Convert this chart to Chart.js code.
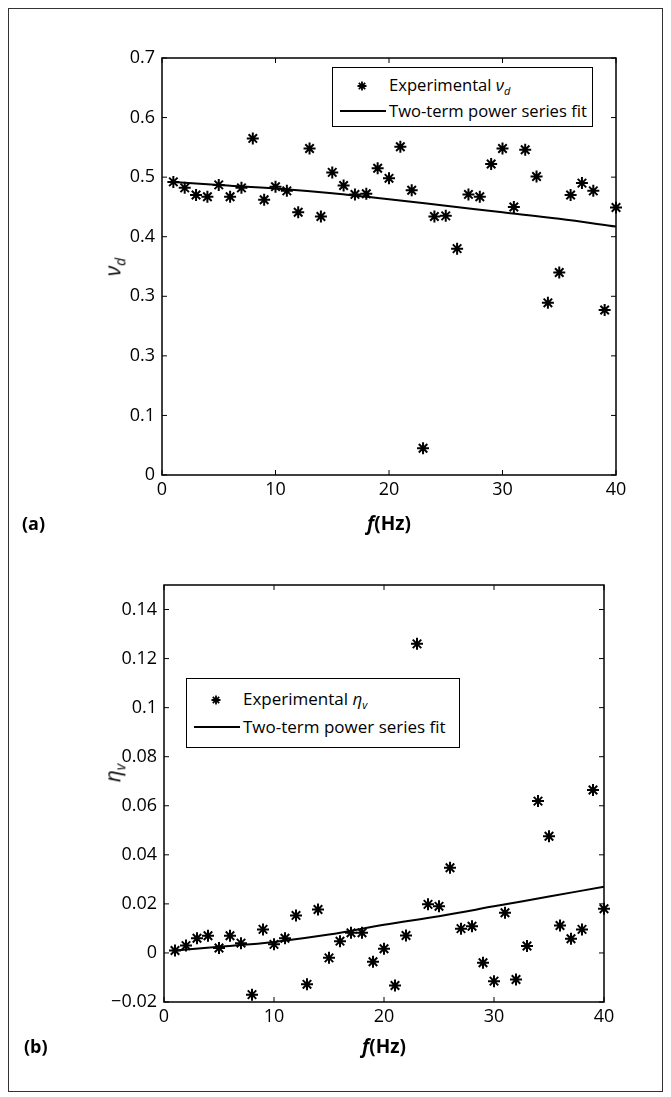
<!DOCTYPE html>
<html lang="en">
<head>
<meta charset="UTF-8">
<title>Poisson ratio and loss factor vs frequency</title>
<script src="https://cdn.jsdelivr.net/npm/chart.js@4.4.0/dist/chart.umd.min.js"></script>
<style>
  body { margin: 0; background: #fff; font-family: "Open Sans", sans-serif; color: #000; }
  .page { position: relative; width: 671px; height: 1097px; overflow: hidden; }
  .frame { position: absolute; left: 8px; top: 8px; width: 655px; height: 1084px; border: 1.5px solid #333; box-sizing: border-box; }
  .wrap { position: absolute; left: 0; width: 671px; }
  .legend { position: absolute; border: 1.5px solid #000; background: #fff; box-sizing: border-box; z-index: 2; }
  .item { position: absolute; left: 0; display: flex; align-items: center; white-space: nowrap; }
  .key { display: inline-block; width: 56px; height: 12px; position: relative; }
  .key .line { position: absolute; left: 7px; right: 3px; top: 5px; border-top: 2px solid #000; }
  .key svg { position: absolute; left: 24px; top: 1px; }
  .ytitle { position: absolute; font-size: 21px; font-style: italic; transform: translate(-50%, -50%) rotate(-90deg); white-space: nowrap; z-index: 2; }
  .ytitle sub { font-size: 14px; }
  .legend sub { font-size: 11px; }
  .xtitle { position: absolute; font-size: 19px; font-weight: bold; transform: translate(-50%, -50%); white-space: nowrap; z-index: 2; }
  .panel { position: absolute; font-size: 18px; font-weight: bold; transform: translateY(-50%); z-index: 2; }
</style>
</head>
<body>
<div class="page">
  <div class="frame"></div>

  <div class="wrap" style="top:0; height:540px;"><canvas id="chartA"></canvas></div>
  <div class="wrap" style="top:540px; height:557px;"><canvas id="chartB"></canvas></div>

  <div class="legend" style="left:332px; top:67px; width:261px; height:60px; font-size:16.6px;">
    <div class="item" style="top:5px;"><span class="key"><svg width="10" height="10" viewBox="-5 -5 10 10"><path d="M0 -4.5V4.5M-4.5 0H4.5M-3.2 -3.2L3.2 3.2M-3.2 3.2L3.2 -3.2" stroke="#000" stroke-width="1.8"/></svg></span><span>Experimental <i>ν</i><sub><i>d</i></sub></span></div>
    <div class="item" style="top:31px;"><span class="key"><span class="line"></span></span><span>Two-term power series fit</span></div>
  </div>
  <div class="legend" style="left:186px; top:678px; width:274px; height:70px; font-size:17px;">
    <div class="item" style="top:8px;"><span class="key"><svg width="10" height="10" viewBox="-5 -5 10 10"><path d="M0 -4.5V4.5M-4.5 0H4.5M-3.2 -3.2L3.2 3.2M-3.2 3.2L3.2 -3.2" stroke="#000" stroke-width="1.8"/></svg></span><span>Experimental <i>η</i><sub><i>v</i></sub></span></div>
    <div class="item" style="top:36px;"><span class="key"><span class="line"></span></span><span>Two-term power series fit</span></div>
  </div>

  <div class="ytitle" style="left:114px; top:267px;">ν<sub>d</sub></div>
  <div class="ytitle" style="left:114px; top:773px;">η<sub>v</sub></div>
  <div class="xtitle" style="left:389px; top:523px;"><i>f</i>(Hz)</div>
  <div class="xtitle" style="left:384px; top:1046px;"><i>f</i>(Hz)</div>
  <div class="panel" style="left:22px; top:523px;">(a)</div>
  <div class="panel" style="left:24px; top:1046px;">(b)</div>
</div>

<script>
  // frequencies (Hz)
  const freq = [1, 2, 3, 4, 5, 6, 7, 8, 9, 10, 11, 12, 13, 14, 15, 16, 17, 18, 19, 20,
                21, 22, 23, 24, 25, 26, 27, 28, 29, 30, 31, 32, 33, 34, 35, 36, 37, 38, 39, 40];

  // (a) experimental dynamic Poisson ratio
  const nuD = [0.492, 0.482, 0.470, 0.467, 0.487, 0.467, 0.482, 0.565, 0.462, 0.484,
               0.477, 0.441, 0.548, 0.434, 0.508, 0.486, 0.471, 0.472, 0.515, 0.498,
               0.551, 0.478, 0.045, 0.434, 0.435, 0.380, 0.471, 0.467, 0.522, 0.548,
               0.450, 0.546, 0.501, 0.289, 0.340, 0.470, 0.490, 0.477, 0.277, 0.449];

  // (b) experimental loss factor
  const etaV = [0.001, 0.003, 0.006, 0.007, 0.002, 0.007, 0.004, -0.017, 0.0096, 0.0035,
                0.006, 0.0153, -0.0128, 0.0177, -0.002, 0.0048, 0.0082, 0.0082, -0.0036, 0.0017,
                -0.0133, 0.0071, 0.126, 0.0198, 0.019, 0.0347, 0.0099, 0.0109, -0.004, -0.0115,
                0.0164, -0.0108, 0.0028, 0.0619, 0.0476, 0.0112, 0.0058, 0.0096, 0.0664, 0.018];

  // two-term power series fits
  const fitFreq = [1, 5, 10, 15, 20, 25, 30, 35, 40];
  const fitNu = [0.492, 0.487, 0.481, 0.473, 0.463, 0.452, 0.441, 0.430, 0.417];
  const fitEta = [0.001, 0.0025, 0.0045, 0.0075, 0.0115, 0.015, 0.019, 0.023, 0.027];

  // axis ticks
  const xTicks = [0, 10, 20, 30, 40];
  const yTicksA = [0, 0.1, 0.2, 0.3, 0.4, 0.5, 0.6, 0.7];
  const yTickLabelsA = ['0', '0.1', '0.3', '0.3', '0.4', '0.5', '0.6', '0.7'];
  const yTicksB = [-0.02, 0, 0.02, 0.04, 0.06, 0.08, 0.1, 0.12, 0.14];
  const yTickLabelsB = ['\u22120.02', '0', '0.02', '0.04', '0.06', '0.08', '0.1', '0.12', '0.14'];

  const tickFont = { family: '"Open Sans", sans-serif', size: 18 };

  // MATLAB-like box with inward ticks on all four sides
  const axesBox = {
    id: 'axesBox',
    afterDatasetsDraw(chart) {
      const { ctx, chartArea: a, scales: { x, y } } = chart;
      ctx.save();
      ctx.strokeStyle = '#000';
      ctx.lineWidth = 1.5;
      ctx.strokeRect(a.left, a.top, a.right - a.left, a.bottom - a.top);
      ctx.beginPath();
      x.ticks.forEach(t => {
        const px = x.getPixelForValue(t.value);
        ctx.moveTo(px, a.bottom); ctx.lineTo(px, a.bottom - 5);
        ctx.moveTo(px, a.top); ctx.lineTo(px, a.top + 5);
      });
      y.ticks.forEach(t => {
        const py = y.getPixelForValue(t.value);
        ctx.moveTo(a.left, py); ctx.lineTo(a.left + 5, py);
        ctx.moveTo(a.right, py); ctx.lineTo(a.right - 5, py);
      });
      ctx.lineWidth = 1;
      ctx.stroke();
      ctx.restore();
    }
  };

  function makeChart(id, values, fitValues, yMin, yMax, yTicks, yLabels, yWidth, pad) {
    return new Chart(document.getElementById(id), {
      type: 'scatter',
      data: {
        datasets: [
          {
            label: 'Experimental',
            data: freq.map((f, i) => ({ x: f, y: values[i] })),
            pointStyle: 'star',
            pointRadius: 6,
            pointBorderWidth: 2,
            borderColor: '#000',
            backgroundColor: '#000',
            clip: false
          },
          {
            label: 'Two-term power series fit',
            data: fitFreq.map((f, i) => ({ x: f, y: fitValues[i] })),
            showLine: true,
            pointRadius: 0,
            borderColor: '#000',
            borderWidth: 2,
            tension: 0.4,
            cubicInterpolationMode: 'monotone'
          }
        ]
      },
      options: {
        responsive: true,
        maintainAspectRatio: false,
        animation: false,
        layout: { padding: pad },
        plugins: { legend: { display: false }, tooltip: { enabled: false } },
        scales: {
          x: {
            type: 'linear', min: 0, max: 40,
            afterBuildTicks: s => { s.ticks = xTicks.map(v => ({ value: v })); },
            afterFit: s => { s.height = 30; },
            grid: { display: false, drawTicks: false },
            border: { display: false },
            ticks: { color: '#000', font: tickFont, padding: 4, maxRotation: 0 }
          },
          y: {
            type: 'linear', min: yMin, max: yMax,
            afterBuildTicks: s => { s.ticks = yTicks.map(v => ({ value: v })); },
            afterFit: s => { s.width = yWidth; },
            grid: { display: false, drawTicks: false },
            border: { display: false },
            ticks: { color: '#000', font: tickFont, padding: 7, callback: (v, i) => yLabels[i] }
          }
        }
      },
      plugins: [axesBox]
    });
  }

  makeChart('chartA', nuD, fitNu, 0, 0.7, yTicksA, yTickLabelsA, 162,
            { left: 0, right: 55, top: 58, bottom: 35 });
  makeChart('chartB', etaV, fitEta, -0.02, 0.15, yTicksB, yTickLabelsB, 164,
            { left: 0, right: 67, top: 45, bottom: 65 });
</script>
</body>
</html>
